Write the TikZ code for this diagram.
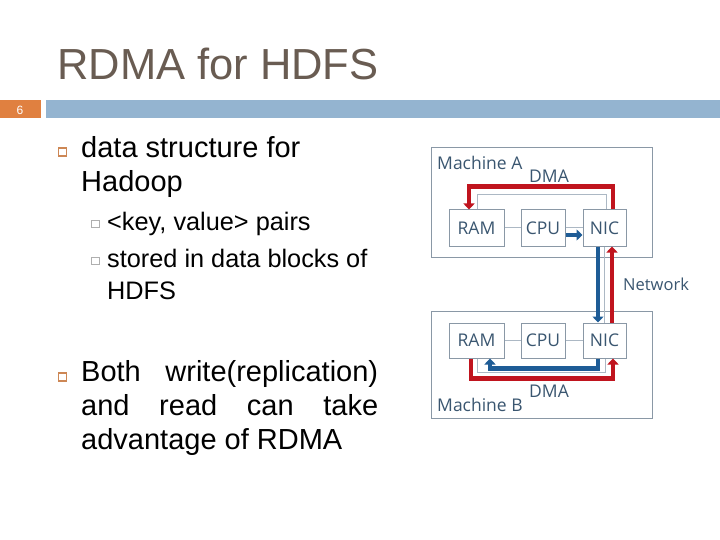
\documentclass[tikz,border=0pt]{standalone}
\usepackage{fontspec}
\setmainfont{Liberation Sans}
\newfontfamily\diagfont{Open Sans}
\usetikzlibrary{arrows.meta,calc}
\definecolor{titlec}{RGB}{105,92,82}
\definecolor{barblue}{RGB}{148,180,208}
\definecolor{barorange}{RGB}{224,128,64}
\definecolor{bulorange}{RGB}{205,135,85}
\definecolor{bulgray}{RGB}{175,175,175}
\definecolor{boxc}{RGB}{138,152,166}
\definecolor{dtext}{RGB}{58,86,112}
\definecolor{linegray}{RGB}{172,184,196}
\definecolor{dred}{RGB}{192,20,30}
\definecolor{dblue}{RGB}{30,92,150}
\begin{document}
\begin{tikzpicture}[x=1pt,y=-1pt,
  body/.style={anchor=base west, inner sep=0pt, font=\fontsize{29}{34}\selectfont},
  subbody/.style={anchor=base west, inner sep=0pt, font=\fontsize{25.3}{30}\selectfont},
  bulA/.style={draw=bulorange, line width=1.5pt, minimum size=8pt, inner sep=0pt},
  bulB/.style={draw=bulgray, line width=0.8pt, minimum size=7.5pt, inner sep=0pt},
  comp/.style={draw=boxc, line width=1pt, minimum height=36pt, inner sep=0pt, text=dtext, font=\diagfont\fontsize{17.5}{20}\selectfont},
  machine/.style={draw=boxc, line width=1pt, inner sep=0pt, minimum width=221pt},
  dlabel/.style={anchor=base west, inner sep=0pt, text=dtext, font=\diagfont\fontsize{17.5}{20}\selectfont},
  gline/.style={draw=linegray, line width=1pt},
  redarr/.style={draw=dred, line width=4.8pt, -{Triangle[length=6pt,width=11pt]}},
  bluearr/.style={draw=dblue, line width=4.5pt, -{Triangle[length=6pt,width=11pt]}}
]
\useasboundingbox (0,0) rectangle (720,540);
\fill[white] (0,0) rectangle (720,540);

% title and bar
\node[anchor=base west, inner sep=0pt, text=titlec, font=\fontsize{43.5}{50}\selectfont] (title) at (57,80) {RDMA for HDFS};
\fill[barorange] (0,100) rectangle (41,118);
\fill[barblue] (46,100) rectangle (720,118);
\node[text=white, inner sep=0pt, font=\fontsize{12}{12}\selectfont] (num) at (20,110) {6};

% bullets
\node[bulA] (b1) at (62.5,152) {};
\node[body] (t1a) at (81,158) {data structure for};
\node[body] (t1b) at (81,192) {Hadoop};
\node[bulB] (s1) at (95.5,224) {};
\node[subbody] (t2) at (107,230) {<key, value> pairs};
\node[bulB] (s2) at (95.5,261) {};
\node[subbody] (t3a) at (107,267) {stored in data blocks of};
\node[subbody] (t3b) at (107,299) {HDFS};
\node[bulA] (b2) at (62.5,377) {};
\node[body] (t4a) at (81,381) {\makebox[297pt][s]{Both write(replication)}};
\node[body] (t4b) at (81,415) {\makebox[297pt][s]{and read can take}};
\node[body] (t4c) at (81,449) {advantage of RDMA};

% machines
\node[machine, minimum height=109pt] (MA) at (541.5,202.5) {};
\node[machine, minimum height=107pt] (MB) at (541.5,364.5) {};
\node[dlabel] (lMA) at (437,170) {Machine A};
\node[dlabel] (dmaA) at (529,183) {DMA};
\node[dlabel] (lMB) at (437,411) {Machine B};
\node[dlabel] (dmaB) at (529,397) {DMA};
\node[dlabel, font=\diagfont\fontsize{16.5}{20}\selectfont] (net) at (623,290) {Network};

\node[comp, minimum width=55pt] (RAMA) at (476.5,228) {RAM};
\node[comp, minimum width=44pt] (CPUA) at (543,228) {CPU};
\node[comp, minimum width=43pt] (NICA) at (604.5,228) {NIC};
\node[comp, minimum width=55pt, minimum height=35pt] (RAMB) at (476.5,340.5) {RAM};
\node[comp, minimum width=44pt, minimum height=35pt] (CPUB) at (543,340.5) {CPU};
\node[comp, minimum width=43pt, minimum height=35pt] (NICB) at (604.5,340.5) {NIC};

% machine A connectors
\draw[gline] (RAMA) -- (CPUA);
\draw[gline] (CPUA) -- (NICA);
\draw[bluearr] ($(CPUA.east)+(0,7)$) -- ($(NICA.west)+(0,7)$);
\draw[gline] ($(RAMA.north)+(0.5,0)$) -- ++(0,-15) -| ($(NICA.north)+(1.5,0)$);
\draw[redarr] ($(NICA.north)+(8.5,0)$) -- ++(0,-23) -| ($(RAMA.north)+(-7.5,0)$);

% network
\draw[bluearr] ($(NICA.south)+(-6.5,0)$) -- ($(NICB.north)+(-6.5,0)$);
\draw[gline] ($(NICA.south)+(-0.5,0)$) -- ($(NICB.north)+(-0.5,0)$);
\draw[redarr] ($(NICB.north)+(7.5,0)$) -- ($(NICA.south)+(7.5,0)$);

% machine B connectors
\draw[gline] (RAMB) -- (CPUB);
\draw[gline] (CPUB) -- (NICB);
\draw[gline] ($(RAMB.south)+(0.5,0)$) -- ++(0,14) -| ($(NICB.south)+(0.5,0)$);
\draw[bluearr] ($(NICB.south)+(-6.5,0)$) -- ++(0,10) -| ($(RAMB.south)+(13.5,0)$);
\draw[redarr] ($(RAMB.south)+(-5.5,0)$) -- ++(0,20) -| ($(NICB.south)+(8.5,0)$);
\end{tikzpicture}
\end{document}
